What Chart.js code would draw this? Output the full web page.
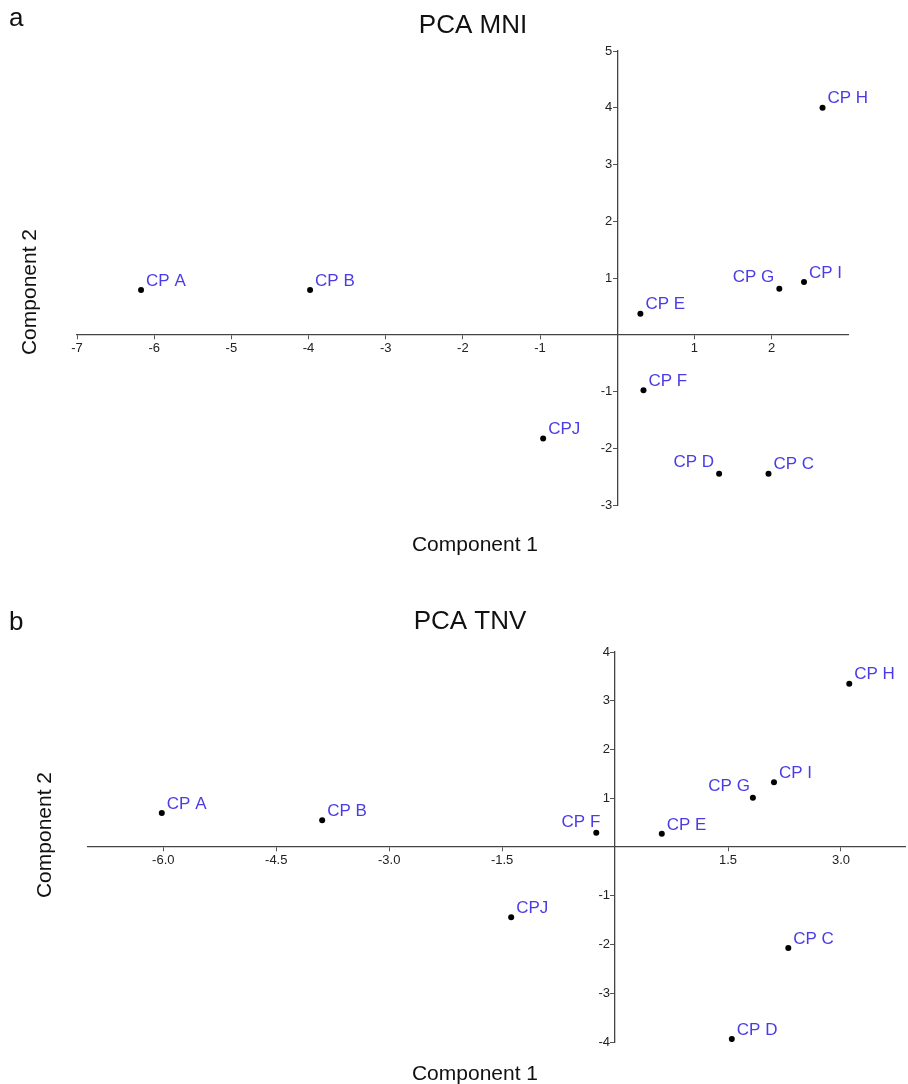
<!DOCTYPE html>
<html>
<head>
<meta charset="utf-8">
<script src="https://cdn.jsdelivr.net/npm/chart.js@4"></script>
<style>
  body { margin: 0; background: #fff; width: 908px; height: 1084px; overflow: hidden; }
  canvas { position: absolute; left: 0; }
  #mni { top: 0; }
  #tnv { top: 580px; }
</style>
</head>
<body>
<canvas id="mni" width="908" height="580"></canvas>
<canvas id="tnv" width="908" height="504"></canvas>
<script>
// PCA MNI
const namesMNI = ['CP A', 'CP B', 'CPJ', 'CP E', 'CP F', 'CP D', 'CP C', 'CP G', 'CP I', 'CP H'];
const comp1MNI = [-6.17, -3.98, -0.96, 0.30, 0.34, 1.32, 1.96, 2.10, 2.42, 2.66];
const comp2MNI = [0.79, 0.79, -1.83, 0.37, -0.98, -2.45, -2.45, 0.81, 0.93, 4.00];
const xTicksMNI = [-7, -6, -5, -4, -3, -2, -1, 1, 2];
const yTicksMNI = [-3, -2, -1, 1, 2, 3, 4, 5];

// PCA TNV
const namesTNV = ['CP A', 'CP B', 'CPJ', 'CP F', 'CP E', 'CP D', 'CP G', 'CP I', 'CP C', 'CP H'];
const comp1TNV = [-6.02, -3.89, -1.38, -0.25, 0.62, 1.55, 1.83, 2.11, 2.30, 3.11];
const comp2TNV = [0.70, 0.55, -1.44, 0.29, 0.27, -3.94, 1.01, 1.33, -2.07, 3.35];
const xTicksTNV = [-6, -4.5, -3, -1.5, 1.5, 3];
const yTicksTNV = [-4, -3, -2, -1, 1, 2, 3, 4];

const FONT = '"Liberation Sans", Arial, sans-serif';
const labelColor = '#4b3be6';

// draws the CP names next to each point
const pointLabels = {
    id: 'pointLabels',
    afterDatasetsDraw(chart, args, opts) {
        const ctx = chart.ctx;
        const meta = chart.getDatasetMeta(0);
        ctx.save();
        ctx.font = '17px ' + FONT;
        ctx.fillStyle = labelColor;
        ctx.textBaseline = 'middle';
        meta.data.forEach((pt, i) => {
            const name = opts.names[i];
            const left = opts.leftSide[name];
            if (left !== undefined) {
                ctx.textAlign = 'right';
                ctx.fillText(name, pt.x + left, pt.y - 11);
            } else {
                ctx.textAlign = 'left';
                ctx.fillText(name, pt.x + 5, pt.y - 9);
            }
        });
        ctx.restore();
    }
};

// y tick labels sit left of the tick marks (chart.js puts them on the axis line
// when the axis is placed at x = 0)
const yTickLabels = {
    id: 'yTickLabels',
    afterDraw(chart) {
        const ctx = chart.ctx;
        const ys = chart.scales.y;
        const axisX = chart.scales.x.getPixelForValue(0);
        ctx.save();
        ctx.font = '13px ' + FONT;
        ctx.fillStyle = '#222';
        ctx.textAlign = 'right';
        ctx.textBaseline = 'middle';
        ys.ticks.forEach(t => {
            ctx.fillText(String(t.value), axisX - 5, ys.getPixelForValue(t.value));
        });
        ctx.restore();
    }
};

// titles, panel letter, axis titles
const panelText = {
    id: 'panelText',
    afterDraw(chart, args, opts) {
        const ctx = chart.ctx;
        ctx.save();
        ctx.fillStyle = '#111';
        ctx.textBaseline = 'middle';
        ctx.textAlign = 'center';
        ctx.font = '26px ' + FONT;
        ctx.fillText(opts.title, opts.titleX, opts.titleY);
        ctx.textAlign = 'left';
        ctx.fillText(opts.letter, 9, opts.letterY);
        ctx.font = '21px ' + FONT;
        ctx.textAlign = 'center';
        ctx.fillText('Component 1', opts.xTitleX, opts.xTitleY);
        ctx.translate(opts.yTitleX, opts.yTitleY);
        ctx.rotate(-Math.PI / 2);
        ctx.fillText('Component 2', 0, 0);
        ctx.restore();
    }
};

function makeChart(id, names, xs, ys, xTicks, yTicks, xr, yr, fmt, padding, leftSide, text) {
    new Chart(document.getElementById(id), {
        type: 'scatter',
        data: {
            datasets: [{
                data: xs.map((x, i) => ({ x: x, y: ys[i] })),
                pointRadius: 3,
                pointHoverRadius: 3,
                pointBackgroundColor: '#000',
                pointBorderWidth: 0
            }]
        },
        options: {
            responsive: false,
            animation: false,
            layout: { padding: padding },
            plugins: {
                legend: { display: false },
                tooltip: { enabled: false },
                pointLabels: { names: names, leftSide: leftSide },
                panelText: text
            },
            scales: {
                x: {
                    type: 'linear',
                    position: { y: 0 },
                    min: xr[0], max: xr[1],
                    afterBuildTicks: s => { s.ticks = xTicks.map(v => ({ value: v })); },
                    ticks: { autoSkip: false, maxRotation: 0, padding: 2, color: '#222', font: { size: 13, family: FONT }, callback: fmt },
                    grid: { drawOnChartArea: false, drawTicks: true, tickLength: 4, tickColor: '#555', tickWidth: 1 },
                    border: { color: '#444', width: 1.3 }
                },
                y: {
                    type: 'linear',
                    position: { x: 0 },
                    min: yr[0], max: yr[1],
                    afterBuildTicks: s => { s.ticks = yTicks.map(v => ({ value: v })); },
                    ticks: { display: false },
                    grid: { drawOnChartArea: false, drawTicks: true, tickLength: 4, tickColor: '#555', tickWidth: 1 },
                    border: { color: '#444', width: 1.3 }
                }
            }
        },
        plugins: [pointLabels, yTickLabels, panelText]
    });
}

makeChart('mni', namesMNI, comp1MNI, comp2MNI, xTicksMNI, yTicksMNI, [-7, 2.99], [-3, 5],
    v => String(v),
    { left: 77, right: 60, top: 51, bottom: 75 },
    { 'CP G': -5, 'CP D': -5 },
    { title: 'PCA MNI', titleX: 473, titleY: 26, letter: 'a', letterY: 19,
      xTitleX: 475, xTitleY: 545, yTitleX: 30, yTitleY: 292 });

makeChart('tnv', namesTNV, comp1TNV, comp2TNV, xTicksTNV, yTicksTNV, [-7, 3.85], [-4, 4],
    v => v.toFixed(1),
    { left: 88, right: 3, top: 72, bottom: 42 },
    { 'CP F': 4, 'CP G': -3 },
    { title: 'PCA TNV', titleX: 470, titleY: 42, letter: 'b', letterY: 43,
      xTitleX: 475, xTitleY: 494, yTitleX: 45, yTitleY: 255 });
</script>
</body>
</html>
